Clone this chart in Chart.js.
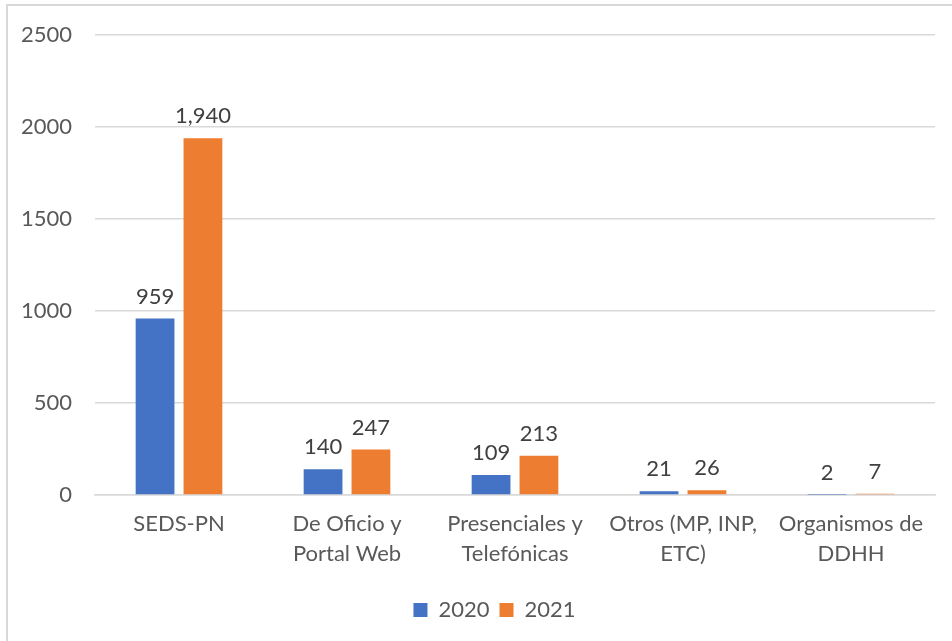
<!DOCTYPE html>
<html>
<head>
<meta charset="utf-8">
<script src="https://cdn.jsdelivr.net/npm/chart.js@4"></script>
<style>
  html, body { margin: 0; padding: 0; background: #fff; overflow: hidden; }
  #box {
    position: absolute; left: 6px; top: 4px; width: 946px; height: 637px;
    border-left: 2px solid #d9d9d9; border-top: 2px solid #d9d9d9;
  }
  #box canvas { display: block; position: absolute; left: 0; top: -7px; }
</style>
</head>
<body>
<div id="box"><canvas id="chart" width="944" height="642"></canvas></div>
<script>
var categories = [
    ['SEDS-PN'],
    ['De Oficio y', 'Portal Web'],
    ['Presenciales y', 'Telefónicas'],
    ['Otros (MP, INP,', 'ETC)'],
    ['Organismos de', 'DDHH']
];
var values2020 = [959, 140, 109, 21, 2];
var values2021 = [1940, 247, 213, 26, 7];
var yTicks = [0, 500, 1000, 1500, 2000, 2500];

var fontFamily = 'Lato, "Open Sans", sans-serif';

// numbers above the bars
var barLabels = {
    id: 'barLabels',
    afterDatasetsDraw: function(chart) {
        var ctx = chart.ctx;
        ctx.save();
        ctx.font = '22px ' + fontFamily;
        ctx.fillStyle = '#404040';
        ctx.textAlign = 'center';
        ctx.textBaseline = 'middle';
        chart.data.datasets.forEach(function(ds, i) {
            chart.getDatasetMeta(i).data.forEach(function(bar, j) {
                ctx.fillText(ds.data[j].toLocaleString('en-US'), bar.x, bar.y - 22);
            });
        });
        ctx.restore();
    }
};

// legend sits a bit right of the canvas centre in the original
var legendShift = {
    id: 'legendShift',
    afterLayout: function(chart) {
        chart.legend.left += 23;
        chart.legend.right += 23;
    }
};

var ctx = document.getElementById('chart');

var data = {
    labels: categories,
    datasets: [{
        label: '2020',
        data: values2020,
        backgroundColor: '#4472C4'
    }, {
        label: '2021',
        data: values2021,
        backgroundColor: '#ED7D31'
    }]
};

var options = {
    responsive: false,
    animation: false,
    layout: { padding: { top: 12, right: 17, bottom: 10, left: 0 } },
    categoryPercentage: 0.57,
    barPercentage: 0.81,
    scales: {
        x: {
            afterFit: function(scale) { scale.height = 94; },
            grid: { display: false },
            border: { color: '#d9d9d9', width: 1.5 },
            ticks: {
                color: '#595959',
                font: { family: fontFamily, size: 22, lineHeight: 1.36 },
                padding: 6,
                maxRotation: 0,
                autoSkip: false
            }
        },
        y: {
            min: 0,
            max: 2500,
            afterBuildTicks: function(scale) {
                scale.ticks = yTicks.map(function(v) { return { value: v }; });
            },
            afterFit: function(scale) { scale.width = 87; },
            grid: { color: '#d9d9d9', lineWidth: 1.5, drawTicks: false },
            border: { display: false },
            ticks: {
                color: '#595959',
                font: { family: fontFamily, size: 22 },
                padding: 23,
                callback: function(v) { return String(v); }
            }
        }
    },
    plugins: {
        legend: {
            position: 'bottom',
            labels: {
                color: '#595959',
                font: { family: fontFamily, size: 22 },
                boxWidth: 14,
                boxHeight: 14,
                padding: 10
            }
        },
        tooltip: { enabled: false }
    }
};

var myChart = new Chart(ctx, {
    type: 'bar',
    data: data,
    options: options,
    plugins: [barLabels, legendShift]
});
</script>
</body>
</html>
